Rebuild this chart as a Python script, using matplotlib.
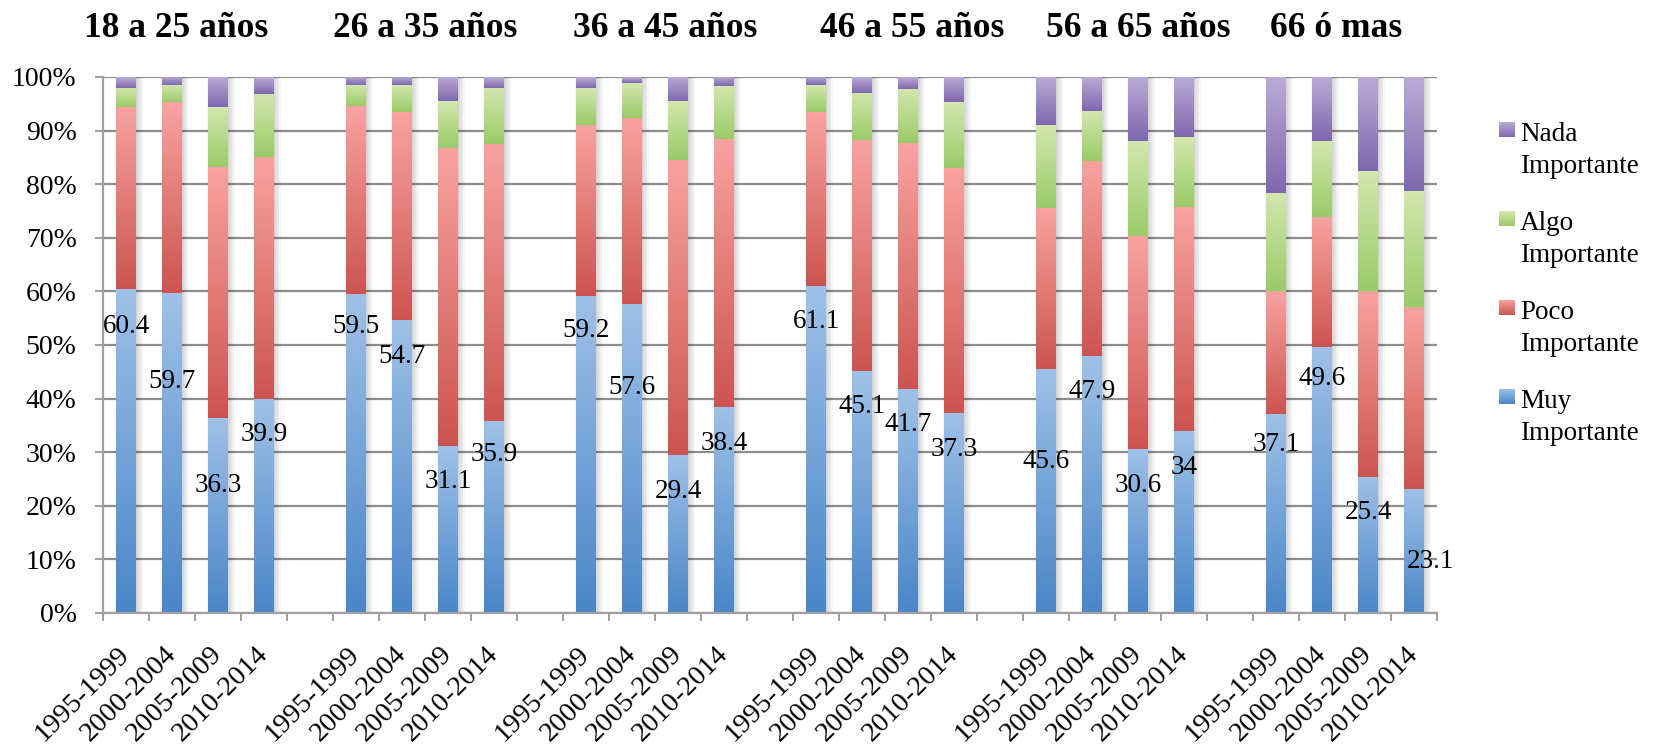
import numpy as np
import matplotlib
matplotlib.use("Agg")
import matplotlib.pyplot as plt
from matplotlib.colors import LinearSegmentedColormap

# ---------------- data ----------------
groups = ["18 a 25 años", "26 a 35 años", "36 a 45 años", "46 a 55 años", "56 a 65 años", "66 ó mas"]
periods = ["1995-1999", "2000-2004", "2005-2009", "2010-2014"]
series_names = ["Muy\nImportante", "Poco\nImportante", "Algo\nImportante", "Nada\nImportante"]

muy = [60.4, 59.7, 36.3, 39.9,
       59.5, 54.7, 31.1, 35.9,
       59.2, 57.6, 29.4, 38.4,
       61.1, 45.1, 41.7, 37.3,
       45.6, 47.9, 30.6, 34.0,
       37.1, 49.6, 25.4, 23.1]
poco = [34.0, 35.6, 47.0, 45.2,
        35.0, 38.8, 55.7, 51.6,
        31.9, 34.8, 55.1, 50.0,
        32.4, 43.2, 46.0, 45.8,
        30.0, 36.4, 39.7, 41.7,
        22.9, 24.3, 34.6, 34.0]
algo = [3.6, 3.2, 11.1, 11.8,
        4.0, 5.0, 8.7, 10.5,
        6.9, 6.5, 11.0, 9.9,
        5.0, 8.8, 10.1, 12.2,
        15.5, 9.3, 17.7, 13.1,
        18.3, 14.1, 22.4, 21.6]
nada = [2.0, 1.5, 5.6, 3.1,
        1.5, 1.5, 4.5, 2.0,
        2.0, 1.1, 4.5, 1.7,
        1.5, 2.9, 2.2, 4.7,
        8.9, 6.4, 12.0, 11.2,
        21.7, 12.0, 17.6, 21.3]

# ---------------- layout / style ----------------
W, H = 1653, 744
label_pos = [54.0, 43.6, 24.3, 33.8, 54.0, 48.4, 25.0, 30.0, 53.2, 42.6, 23.2, 32.2,
             54.8, 39.0, 35.6, 31.0, 28.7, 41.8, 24.3, 27.6, 32.0, 44.2, 19.2, 10.1]
label_dx = [0] * 23 + [11.5]
title_x_px = [176, 425, 665, 912, 1138, 1336]
grad_colors = [("#4a86c8", "#9fc1e7"),   # bottom, top
               ("#cc5450", "#f8a3a0"),
               ("#9acb68", "#d3e7ae"),
               ("#7f67ae", "#bbacd6")]
SERIF = ["Liberation Serif", "DejaVu Serif"]
GRID = "#8e8e8e"
SPINE = "#a0a0a0"

plt.rcParams["font.family"] = SERIF

fig = plt.figure(figsize=(W / 100, H / 100), dpi=100)
ax = fig.add_axes([103 / W, (H - 613) / H, 1334 / W, 536 / H])

gap = 1
xpos = []
for g in range(len(groups)):
    for p in range(len(periods)):
        xpos.append(g * (len(periods) + gap) + p)
xpos = np.array(xpos, dtype=float)
ncat = len(groups) * (len(periods) + gap) - gap

series = [np.array(muy), np.array(poco), np.array(algo), np.array(nada)]
bw = 0.42

# soft shadow behind bars
px = 1 / 46.0
total = sum(series)
for k in range(1, 6):
    ax.bar(xpos + k * 0.6 * px, total, width=bw + 2 * k * px * 0.8, color="#000000",
           alpha=0.035, zorder=1.5, linewidth=0)

bottom = np.zeros(len(xpos))
grad = np.linspace(0, 1, 256).reshape(-1, 1)
for s, vals in enumerate(series):
    cmap = LinearSegmentedColormap.from_list(f"g{s}", list(grad_colors[s]))
    bars = ax.bar(xpos, vals, bottom=bottom, width=bw, facecolor="none",
                  edgecolor="none", zorder=2)
    for r in bars:
        x0, y0 = r.get_x(), r.get_y()
        w, h = r.get_width(), r.get_height()
        ax.imshow(grad, cmap=cmap, origin="lower", aspect="auto",
                  extent=[x0, x0 + w, y0, y0 + h], zorder=2, interpolation="bilinear")
    bottom = bottom + vals

# data labels (Muy Importante)
for i, v in enumerate(muy):
    ax.annotate(f"{v:g}", xy=(xpos[i], label_pos[i]), xytext=(label_dx[i], -6.6),
                textcoords="offset points", ha="center", va="baseline",
                fontsize=19.5, color="black", zorder=5)

ax.set_xlim(-0.5, ncat - 0.5)
ax.set_ylim(0, 100)

# axes styling
ax.set_yticks(np.arange(0, 101, 10))
ax.set_yticklabels([f"{t}%" for t in range(0, 101, 10)], fontsize=20)
ax.yaxis.grid(True, color=GRID, linewidth=1.6, zorder=0)
ax.set_axisbelow(True)
ax.set_xticks(np.arange(-0.5, ncat, 1.0))
ax.set_xticklabels([])
ax.set_xticks(xpos, minor=True)
ax.set_xticklabels([periods[i % len(periods)] for i in range(len(xpos))], minor=True,
                   rotation=45, ha="right", va="center", rotation_mode="anchor", fontsize=20.5)
ax.tick_params(axis="x", which="major", length=6, width=1.5, color=SPINE, direction="out")
ax.tick_params(axis="x", which="minor", length=0, pad=27)
ax.tick_params(axis="y", which="major", length=6, width=1.5, color=SPINE, pad=13)
for sp in ["top", "right"]:
    ax.spines[sp].set_visible(False)
for sp in ["left", "bottom"]:
    ax.spines[sp].set_color(SPINE)
    ax.spines[sp].set_linewidth(1.6)

# group titles
for g, name in enumerate(groups):
    fig.text(title_x_px[g] / W, 1 - 37 / H, name, ha="center", va="baseline",
             fontsize=25.5, fontweight="bold", color="black")

# legend (manual, top entry = last series)
for k, s in enumerate(reversed(range(len(series_names)))):
    base = 141 + 89 * k
    lax = fig.add_axes([1499 / W, 1 - (base - 4) / H, 15 / W, 15 / H])
    cmap = LinearSegmentedColormap.from_list(f"l{s}", list(grad_colors[s]))
    lax.imshow(grad, cmap=cmap, origin="lower", aspect="auto", extent=[0, 1, 0, 1])
    lax.set_axis_off()
    for j, line in enumerate(series_names[s].split("\n")):
        fig.text(1520 / W, 1 - (base + 32 * j) / H, line, ha="left", va="baseline",
                 fontsize=19.5, color="black")

fig.savefig("out.png", dpi=100)
